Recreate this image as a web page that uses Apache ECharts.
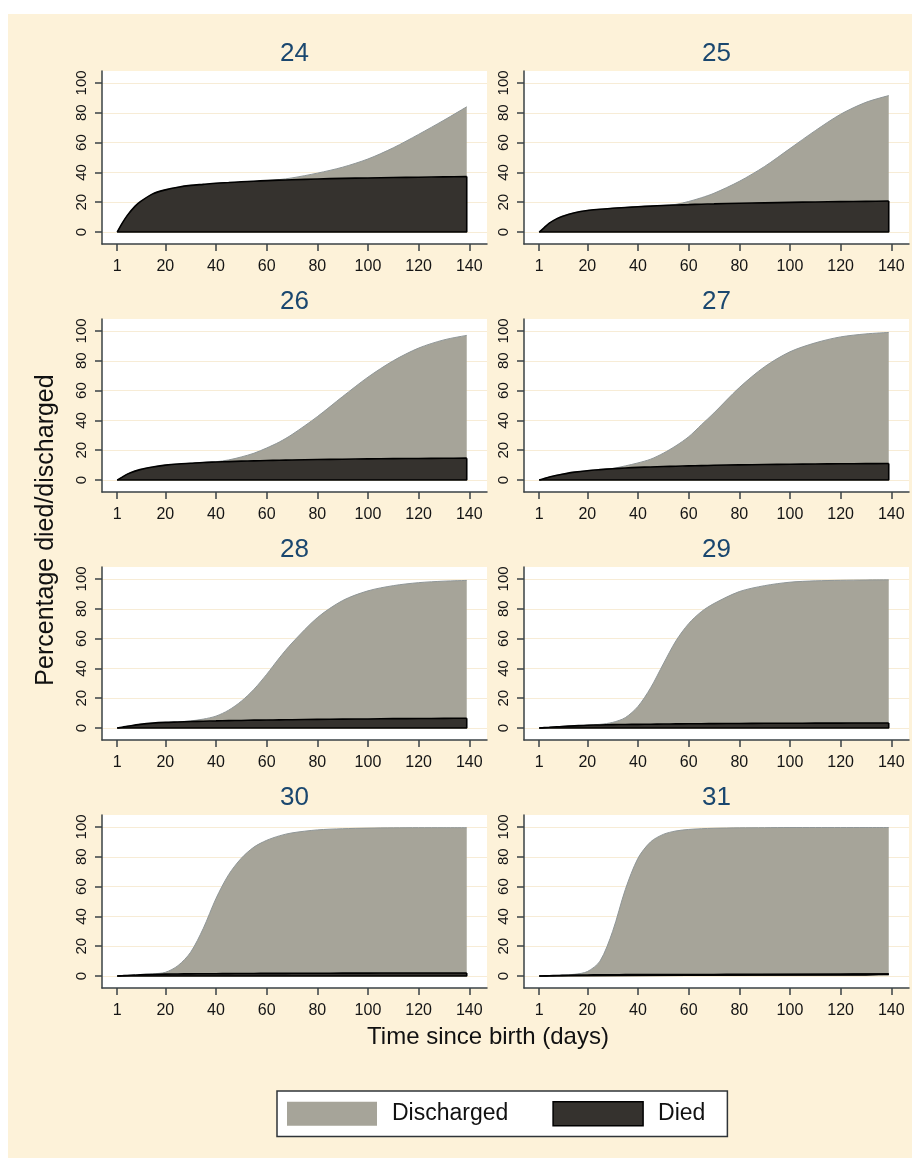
<!DOCTYPE html>
<html><head><meta charset="utf-8">
<script src="https://cdn.jsdelivr.net/npm/echarts@6/dist/echarts.min.js"></script>
<style>
html,body{margin:0;padding:0;background:#fff;}
#bg{position:absolute;left:8px;top:14px;width:904px;height:1144px;background:#fdf2d9;}
#chart{position:absolute;left:0;top:0;width:917px;height:1158px;}
</style></head><body>
<div id="bg"></div><div id="chart"></div>
<script>
// ---- data ----
const days = [1,3,5,8,10,15,20,25,30,35,40,45,50,55,60,65,70,80,90,100,110,120,130,139];
const panelTitles = ['24','25','26','27','28','29','30','31'];
const xTickLabels = [1,20,40,60,80,100,120,140];
const yTickLabels = [0,20,40,60,80,100];

// upper edge of the grey "Discharged" area (cumulative %), and the "Died" %
const discharged24 = [0,6,11.2,17.2,20.2,25.6,28.3,30.1,31.3,32,32.7,33.2,33.7,34.1,34.5,35.2,36.3,39.5,43.5,49,56.5,65.5,75,84];
const died24       = [0,6,11.2,17.2,20.2,25.6,28.3,30.1,31.3,32,32.7,33.2,33.7,34.1,34.5,34.8,35.1,35.6,36,36.3,36.6,36.8,37,37.2];
const discharged25 = [0,3,6,9,10.5,13,14.5,15.3,16,16.5,17,17.4,17.9,18.6,20.5,23,26,34,44,56,68,79,87,91.5];
const died25       = [0,3,6,9,10.5,13,14.5,15.3,16,16.5,17,17.4,17.8,18.1,18.4,18.7,18.9,19.3,19.6,19.9,20.2,20.4,20.6,20.8];
const discharged26 = [0,2,4,6,7,8.8,10,10.8,11.3,11.8,12.3,13.5,15.5,18,21.5,25.5,30.5,42.5,56,69,80,88.5,94,97];
const died26       = [0,2,4,6,7,8.8,10,10.8,11.3,11.8,12.1,12.4,12.7,12.9,13.1,13.3,13.5,13.8,14,14.2,14.4,14.5,14.6,14.7];
const discharged27 = [0,1,2,3.2,3.9,5.3,6.3,7,7.8,9.5,11.5,14,18,23,29,37,45,62,76,86,92,96,98,99];
const died27       = [0,1,2,3.2,3.9,5.3,6.3,7,7.6,8.1,8.5,8.8,9.1,9.3,9.5,9.7,9.9,10.2,10.4,10.6,10.8,10.9,11,11.1];
const discharged28 = [0,0.6,1.2,2,2.5,3.3,3.8,4.2,4.8,6,8,12,18,26,36,47,57,74,85.5,92,95.5,97.5,98.5,99];
const died28       = [0,0.6,1.2,2,2.5,3.3,3.8,4.1,4.4,4.6,4.8,5,5.1,5.3,5.4,5.5,5.6,5.8,6,6.1,6.3,6.4,6.5,6.6];
const discharged29 = [0,0.3,0.5,0.9,1.1,1.5,2,2.5,3.8,7,14.5,27,43,58.5,70,78,83.5,91.5,95.5,97.8,98.7,99.1,99.3,99.4];
const died29       = [0,0.3,0.5,0.9,1.1,1.5,1.9,2.1,2.3,2.4,2.5,2.6,2.7,2.8,2.9,2.9,3,3.1,3.2,3.2,3.3,3.3,3.4,3.4];
const discharged30 = [0,0.3,0.5,0.8,1,1.5,2.5,7,16,32,52,68,79,86.5,91,94,96,98,98.8,99.2,99.4,99.5,99.5,99.5];
const died30       = [0,0.2,0.4,0.6,0.8,1.1,1.3,1.4,1.5,1.55,1.6,1.65,1.7,1.75,1.8,1.8,1.85,1.9,1.95,2,2.05,2.1,2.1,2.1];
const discharged31 = [0,0.15,0.3,0.45,0.6,1.2,3,10,30,58,79,90,95,97.3,98.3,98.8,99.1,99.4,99.5,99.6,99.6,99.6,99.6,99.6];
const died31       = [0,0.1,0.2,0.35,0.45,0.6,0.75,0.85,0.9,0.95,1,1,1.05,1.05,1.1,1.1,1.1,1.15,1.2,1.2,1.25,1.25,1.3,1.3];

const dischargedByPanel = [discharged24,discharged25,discharged26,discharged27,discharged28,discharged29,discharged30,discharged31];
const diedByPanel = [died24,died25,died26,died27,died28,died29,died30,died31];

// ---- styling / layout ----
const FONT = '"Liberation Sans", Arial, Helvetica, sans-serif';
const GREY = '#a6a499', DARK = '#35322e', AXIS = '#3a4245', TITLE = '#1a476f';
const colLeft = [102, 524], rowTop0 = 71, rowStep = 248, gridW = 385, gridH = 173;
const SMOOTH = 0.3;

const grids = [], xAxes = [], yAxes = [], series = [], graphics = [];
panelTitles.forEach((t, i) => {
  const c = i % 2, r = Math.floor(i / 2);
  const left = colLeft[c], top = rowTop0 + r * rowStep;
  grids.push({left, top, width: gridW, height: gridH, show: true, backgroundColor: '#ffffff', borderWidth: 0, containLabel: false});
  xAxes.push({
    gridIndex: i, type: 'value', min: -5, max: 147,
    axisLine: {show: true, onZero: false, lineStyle: {color: AXIS, width: 1.5}},
    axisTick: {show: true, customValues: xTickLabels, length: 7, lineStyle: {color: AXIS, width: 1.5}},
    axisLabel: {customValues: xTickLabels, fontSize: 16, color: '#151515', fontFamily: FONT, margin: 15},
    splitLine: {show: false}
  });
  yAxes.push({
    gridIndex: i, type: 'value', min: -8, max: 108,
    axisLine: {show: true, onZero: false, lineStyle: {color: AXIS, width: 1.5}},
    axisTick: {show: true, customValues: yTickLabels, length: 7, lineStyle: {color: AXIS, width: 1.5}},
    axisLabel: {customValues: yTickLabels, rotate: 90, fontSize: 15, color: '#151515', fontFamily: FONT, margin: 13},
    splitLine: {show: true, lineStyle: {color: '#f7ecd6', width: 1}}
  });
  graphics.push({type: 'text', x: left + gridW / 2, y: top - 17,
    style: {text: t, fill: TITLE, font: '26px ' + FONT, textAlign: 'center', textVerticalAlign: 'middle'}});
  const dis = dischargedByPanel[i], died = diedByPanel[i];
  series.push({
    type: 'line', name: 'Discharged', xAxisIndex: i, yAxisIndex: i,
    data: days.map((d, k) => [d, dis[k]]),
    smooth: SMOOTH, symbol: 'none', z: 2,
    itemStyle: {color: GREY},
    lineStyle: {color: '#8f9697', width: 1},
    areaStyle: {color: GREY, opacity: 1}
  });
  series.push({
    type: 'line', name: 'Died', xAxisIndex: i, yAxisIndex: i,
    data: days.map((d, k) => [d, died[k]]),
    smooth: SMOOTH, symbol: 'none', z: 3,
    itemStyle: {color: DARK},
    lineStyle: {color: '#000', width: 1.6},
    areaStyle: {color: DARK, opacity: 1}
  });
  // outline of the right and bottom edges of the Died area
  const last = days.length - 1;
  series.push({
    type: 'line', name: 'Died', xAxisIndex: i, yAxisIndex: i,
    data: [[days[last], died[last]], [days[last], 0], [days[0], 0]],
    symbol: 'none', z: 4, silent: true,
    itemStyle: {color: DARK},
    lineStyle: {color: '#000', width: 1.6}
  });
});

graphics.push({type: 'text', x: 46, y: 530, rotation: Math.PI / 2,
  style: {text: 'Percentage died/discharged', fill: '#111', font: '25px ' + FONT, textAlign: 'center', textVerticalAlign: 'middle'}});
graphics.push({type: 'text', x: 488, y: 1037,
  style: {text: 'Time since birth (days)', fill: '#111', font: '24px ' + FONT, textAlign: 'center', textVerticalAlign: 'middle'}});

const chart = echarts.init(document.getElementById('chart'), null, {renderer: 'canvas'});
chart.setOption({
  backgroundColor: 'transparent',
  animation: false,
  grid: grids, xAxis: xAxes, yAxis: yAxes, series,
  graphic: graphics,
  legend: {
    left: 277, top: 1091, orient: 'horizontal', icon: 'rect',
    itemWidth: 90, itemHeight: 24, itemGap: 44,
    padding: [10, 22, 10, 10],
    backgroundColor: '#ffffff', borderColor: '#2f3438', borderWidth: 1.5,
    selectedMode: false,
    textStyle: {fontSize: 23, color: '#111', fontFamily: FONT, padding: [0, 0, 0, 10]},
    data: [
      {name: 'Discharged', itemStyle: {color: GREY, borderWidth: 0}},
      {name: 'Died', itemStyle: {color: DARK, borderColor: '#000', borderWidth: 1.5}}
    ]
  }
});
</script>
</body></html>
